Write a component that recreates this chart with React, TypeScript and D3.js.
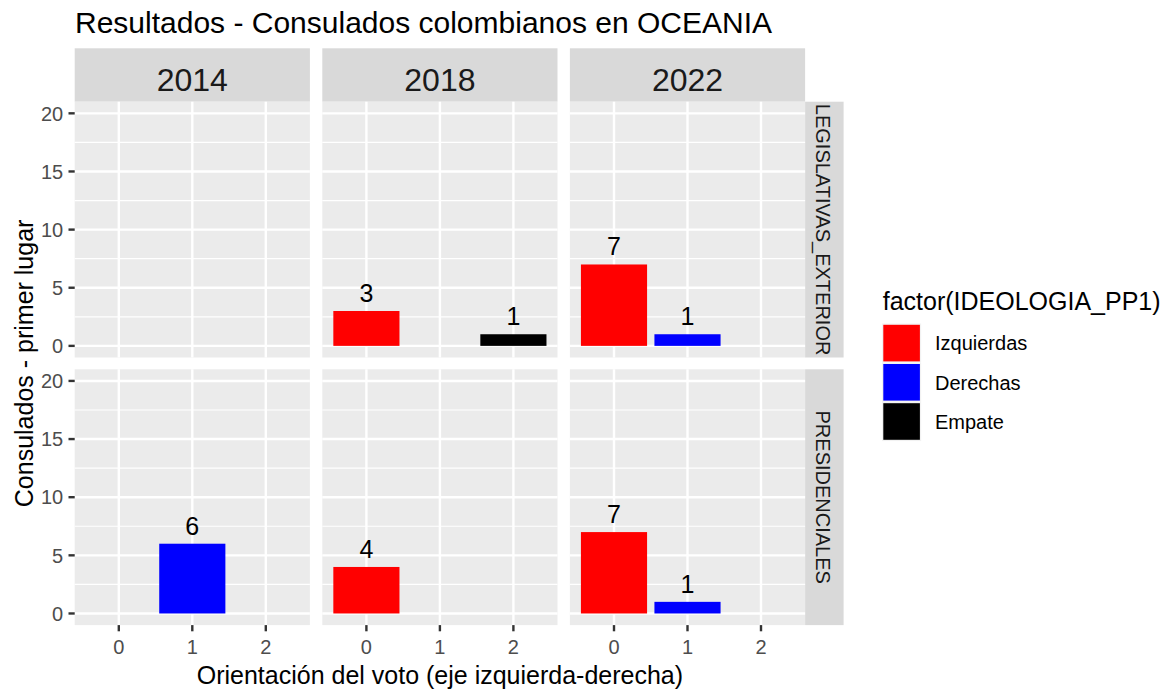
import React from "react";
import * as d3 from "d3";

const years = ["2014", "2018", "2022"];
const elections = ["LEGISLATIVAS_EXTERIOR", "PRESIDENCIALES"];
const categories = ["Izquierdas", "Derechas", "Empate"];
const categoryX = [0, 1, 2];
const colors = ["#FF0000", "#0000FF", "#000000"];

// values per [election][year][category]; null = no bar
const legislativas = [
  [null, null, null],
  [3, null, 1],
  [7, 1, null],
];
const presidenciales = [
  [null, 6, null],
  [4, null, null],
  [7, 1, null],
];
const values = [legislativas, presidenciales];

const yTicks = [0, 5, 10, 15, 20];
const yMinor = [2.5, 7.5, 12.5, 17.5];
const xTicks = [0, 1, 2];

const WIDTH = 1163;
const HEIGHT = 692;
const PANEL_LEFT = 74.7;
const PANEL_W = 235.2;
const GAP_X = 12.4;
const ROW_TOP = [101.7, 369.3];
const PANEL_H = 255.8;
const STRIP_TOP = 48.3;
const STRIP_R_W = 38.5;
const FONT = "'Liberation Sans', Arial, Helvetica, sans-serif";

export default function App() {
  const cols = years.map((_, i) => PANEL_LEFT + i * (PANEL_W + GAP_X));
  const rightEdge = cols[2] + PANEL_W;
  const xScales = cols.map((l) =>
    d3.scaleLinear().domain([-0.6, 2.6]).range([l, l + PANEL_W])
  );
  const yScales = ROW_TOP.map((t) =>
    d3.scaleLinear().domain([-1, 21]).range([t + PANEL_H, t])
  );
  const barW = 0.9;
  const panelsBottom = ROW_TOP[1] + PANEL_H;

  return (
    <svg width={WIDTH} height={HEIGHT} style={{ display: "block", position: "absolute", left: 0, top: 0 }} fontFamily={FONT}>
      <rect x={0} y={0} width={WIDTH} height={HEIGHT} fill="#FFFFFF" />
      <defs>
        {elections.map((_, r) => (
          <clipPath id={`clipS${r}`} key={r}>
            <rect x={rightEdge} y={ROW_TOP[r]} width={STRIP_R_W} height={PANEL_H} />
          </clipPath>
        ))}
      </defs>
      {/* title */}
      <text x={75} y={33} fontSize={30} fill="#000000">
        Resultados - Consulados colombianos en OCEANIA
      </text>
      {/* top strips */}
      {years.map((yr, c) => (
        <g key={`s${c}`}>
          <rect x={cols[c]} y={STRIP_TOP} width={PANEL_W} height={ROW_TOP[0] - STRIP_TOP} fill="#D9D9D9" />
          <text x={cols[c] + PANEL_W / 2} y={90.5} fontSize={32} textAnchor="middle" fill="#1A1A1A">
            {yr}
          </text>
        </g>
      ))}
      {/* right strips */}
      {elections.map((el, r) => (
        <g key={`rs${r}`}>
          <rect x={rightEdge} y={ROW_TOP[r]} width={STRIP_R_W} height={PANEL_H} fill="#D9D9D9" />
          <g clipPath={`url(#clipS${r})`}>
            <text
              transform={`translate(${rightEdge + 17.5},${ROW_TOP[r] + PANEL_H / 2}) rotate(90)`}
              fontSize={20}
              textAnchor="middle"
              dominantBaseline="central"
              fill="#1A1A1A"
            >
              {el}
            </text>
          </g>
        </g>
      ))}
      {/* panels */}
      {elections.map((_, r) =>
        years.map((__, c) => {
          const xs = xScales[c];
          const ys = yScales[r];
          const vals = values[r][c];
          return (
            <g key={`p${r}-${c}`}>
              <rect x={cols[c]} y={ROW_TOP[r]} width={PANEL_W} height={PANEL_H} fill="#EBEBEB" />
              {yMinor.map((v) => (
                <line key={`ym${v}`} x1={cols[c]} x2={cols[c] + PANEL_W} y1={ys(v)} y2={ys(v)} stroke="#FFFFFF" strokeWidth={1.2} />
              ))}
              {yTicks.map((v) => (
                <line key={`yM${v}`} x1={cols[c]} x2={cols[c] + PANEL_W} y1={ys(v)} y2={ys(v)} stroke="#FFFFFF" strokeWidth={2.4} />
              ))}
              {xTicks.map((v) => (
                <line key={`xM${v}`} x1={xs(v)} x2={xs(v)} y1={ROW_TOP[r]} y2={ROW_TOP[r] + PANEL_H} stroke="#FFFFFF" strokeWidth={2.4} />
              ))}
              {vals.map((v, k) =>
                v === null ? null : (
                  <g key={`b${k}`}>
                    <rect
                      x={xs(categoryX[k] - barW / 2)}
                      y={ys(v)}
                      width={xs(categoryX[k] + barW / 2) - xs(categoryX[k] - barW / 2)}
                      height={ys(0) - ys(v)}
                      fill={colors[k]}
                    />
                    <text x={xs(categoryX[k])} y={ys(v) - 9} fontSize={25} textAnchor="middle" fill="#000000">
                      {v}
                    </text>
                  </g>
                )
              )}
            </g>
          );
        })
      )}
      {/* y axes */}
      {elections.map((_, r) =>
        yTicks.map((v) => (
          <g key={`yt${r}-${v}`}>
            <line x1={PANEL_LEFT - 6.2} x2={PANEL_LEFT} y1={yScales[r](v)} y2={yScales[r](v)} stroke="#333333" strokeWidth={2.4} />
            <text x={PANEL_LEFT - 11.5} y={yScales[r](v) + 7.2} fontSize={20} textAnchor="end" fill="#4D4D4D">
              {v}
            </text>
          </g>
        ))
      )}
      {/* x axes */}
      {years.map((_, c) =>
        xTicks.map((v) => (
          <g key={`xt${c}-${v}`}>
            <line x1={xScales[c](v)} x2={xScales[c](v)} y1={panelsBottom} y2={panelsBottom + 6.2} stroke="#333333" strokeWidth={2.4} />
            <text x={xScales[c](v)} y={654} fontSize={20} textAnchor="middle" fill="#4D4D4D">
              {v}
            </text>
          </g>
        ))
      )}
      {/* axis titles */}
      <text x={(PANEL_LEFT + rightEdge) / 2} y={684} fontSize={25} textAnchor="middle" fill="#000000">
        Orientación del voto (eje izquierda-derecha)
      </text>
      <text
        transform={`translate(33,${(ROW_TOP[0] + panelsBottom) / 2}) rotate(-90)`}
        fontSize={25}
        textAnchor="middle"
        fill="#000000"
      >
        Consulados - primer lugar
      </text>
      {/* legend */}
      <text x={882.7} y={310} fontSize={25} fill="#000000">
        factor(IDEOLOGIA_PP1)
      </text>
      {categories.map((cat, k) => {
        const top = 323.5 + k * 39.2;
        return (
          <g key={`lg${k}`}>
            <rect x={882} y={top} width={39.2} height={39.2} fill="#F2F2F2" />
            <rect x={883.3} y={top + 1.3} width={36.6} height={36.6} fill={colors[k]} />
            <text x={935} y={top + 19.6 + 7.2} fontSize={20} fill="#000000">
              {cat}
            </text>
          </g>
        );
      })}
    </svg>
  );
}
